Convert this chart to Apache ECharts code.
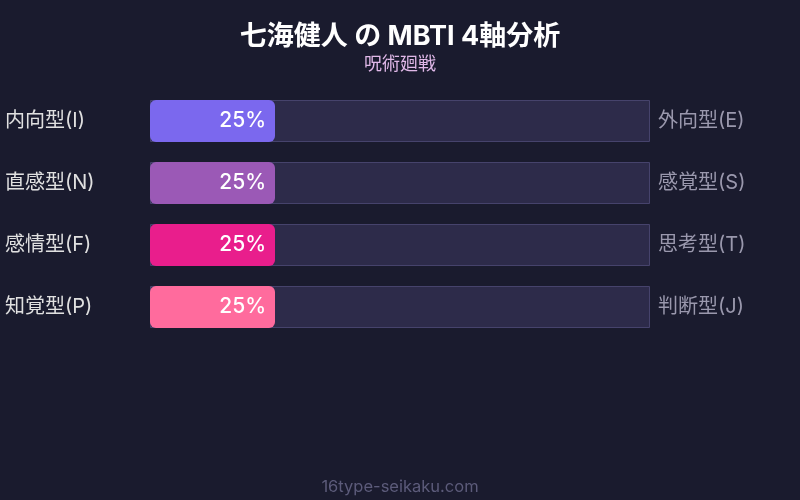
<!DOCTYPE html>
<html><head><meta charset="utf-8">
<script src="https://cdn.jsdelivr.net/npm/echarts@6/dist/echarts.min.js"></script>
<style>html,body{margin:0;padding:0;background:#1a1b2e;}#c{width:800px;height:500px;}</style>
</head><body><div id="c"></div>
<script>
const leftLabels = ['内向型(I)', '直感型(N)', '感情型(F)', '知覚型(P)'];
const rightLabels = ['外向型(E)', '感覚型(S)', '思考型(T)', '判断型(J)'];
const values = [25, 25, 25, 25];
const trackValues = [100, 100, 100, 100];
const barColors = ['#7b68ee', '#9b59b6', '#e91e8c', '#ff6b9d'];

const font = 'Inter, "Noto Sans CJK JP", sans-serif';
const chart = echarts.init(document.getElementById('c'));
chart.setOption({
  backgroundColor: '#1a1b2e',
  animation: false,
  title: [
    { text: '七海健人 の MBTI 4軸分析', left: 'center', top: 18,
      textStyle: { color: '#ffffff', fontSize: 27, fontWeight: 'bold', fontFamily: font },
      subtext: '呪術廻戦', itemGap: 6,
      subtextStyle: { color: '#e0b8e8', fontSize: 18, fontFamily: font } },
    { text: '16type-seikaku.com', left: 'center', top: 474,
      textStyle: { color: '#5c5b7a', fontSize: 16.5, fontWeight: 'normal', fontFamily: font } }
  ],
  grid: { left: 150, right: 150, top: 90, height: 248 },
  xAxis: { type: 'value', min: 0, max: 100, show: false },
  yAxis: [
    { type: 'category', data: leftLabels, inverse: true,
      axisLine: { show: false }, axisTick: { show: false },
      axisLabel: { color: '#e0e0e0', fontSize: 20, align: 'left', margin: 145, fontFamily: font } },
    { type: 'category', data: rightLabels, inverse: true, position: 'right',
      axisLine: { show: false }, axisTick: { show: false },
      axisLabel: { color: '#9a98ad', fontSize: 20, align: 'left', margin: 8, fontFamily: font } }
  ],
  series: [
    { type: 'bar', data: trackValues, barWidth: 42, silent: true, z: 1,
      itemStyle: { color: '#2d2b4a', borderColor: '#46436c', borderWidth: 1 } },
    { type: 'bar', barGap: '-100%', barWidth: 42, z: 2,
      data: values.map((v, i) => ({ value: v, itemStyle: { color: barColors[i], borderRadius: 6 } })),
      label: { show: true, position: 'insideRight', distance: 9, formatter: '{c}%',
        color: '#ffffff', fontSize: 21, fontWeight: 500, fontFamily: font } }
  ]
});
</script></body></html>
